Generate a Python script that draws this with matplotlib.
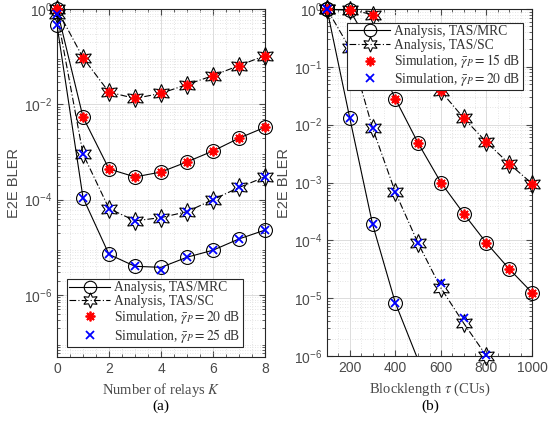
import matplotlib
matplotlib.use('Agg')
import matplotlib.pyplot as plt
import numpy as np
from matplotlib.lines import Line2D

# (a) BLER vs number of relays
K = [0, 1, 2, 3, 4, 5, 6, 7, 8]
mrc_20 = [0.98, 5.4e-3, 4.4e-4, 3.0e-4, 3.8e-4, 6.2e-4, 1.05e-3, 1.95e-3, 3.3e-3]
sc_20 = [0.99, 0.095, 0.018, 0.0133, 0.017, 0.026, 0.040, 0.065, 0.105]
mrc_25 = [0.46, 1.1e-4, 7.1e-6, 4.0e-6, 3.8e-6, 6.2e-6, 8.7e-6, 1.5e-5, 2.3e-5]
sc_25 = [0.80, 9.1e-4, 6.5e-5, 3.6e-5, 4.2e-5, 5.6e-5, 1.0e-4, 1.8e-4, 3.0e-4]
sim_mrc_25 = [0.46, 1.1e-4, 7.1e-6, 4.0e-6, 3.4e-6, 6.2e-6, 8.7e-6, 1.5e-5, 2.3e-5]

# (b) BLER vs blocklength
tau = [100, 200, 300, 400, 500, 600, 700, 800, 900, 1000]
mrc_15 = [0.99, 0.95, 0.2, 0.028, 4.8e-3, 1.0e-3, 2.9e-4, 9.0e-5, 3.2e-5, 1.25e-5]
sc_15 = [1.0, 0.98, 0.8, 0.3, 0.1, 0.038, 0.013, 5.0e-3, 2.1e-3, 9.6e-4]
tau_20 = [100, 200, 300, 400, 500]
mrc_20b = [0.99, 0.013, 1.9e-4, 8.3e-6, 8.5e-7]
tau_sc20 = [100, 200, 300, 400, 500, 600, 700, 800]
sc_20b = [1.0, 0.21, 8.7e-3, 6.8e-4, 8.9e-5, 1.5e-5, 3.7e-6, 1.0e-6]
sim_sc_20b = [1.0, 0.21, 8.7e-3, 6.8e-4, 8.9e-5, 1.8e-5, 4.6e-6, 1.05e-6]

plt.rcParams['font.family'] = 'Liberation Sans'
plt.rcParams['mathtext.fontset'] = 'stix'

GRAY = '#4a4a4a'
STAR = (8, 2, 0)
HEX = (6, 1, 0)
DASHDOT = (0, (6, 2, 1, 2))

fig = plt.figure(figsize=(5.53, 4.24), dpi=100)
ax1 = fig.add_axes([57 / 553, 67 / 424, 208 / 553, 348 / 424])
ax2 = fig.add_axes([327 / 553, 68 / 424, 205 / 553, 347 / 424])


def style(ax):
    ax.set_yscale('log')
    ax.grid(True, which='major', color='#dcdcdc', lw=0.7)
    ax.grid(True, which='minor', color='#dcdcdc', lw=0.6, ls=(0, (1, 2)))
    ax.tick_params(which='both', direction='in', top=True, right=True,
                   colors=GRAY, labelsize=10, labelcolor=GRAY)
    ax.tick_params(which='major', length=4)
    ax.tick_params(which='minor', length=2)
    for s in ax.spines.values():
        s.set_color('#262626')
        s.set_linewidth(0.8)
    ax.set_axisbelow(True)


def analysis(ax, x, y, ls, mk, ms, nmk=None):
    ax.plot(x, y, color='k', ls=ls, lw=0.8, zorder=3)
    n = len(x) if nmk is None else nmk
    ax.plot(x[:n], y[:n], ls='none', marker=mk, ms=ms, mfc='none', mec='k',
            mew=0.8, clip_on=False, zorder=3)


def sim(ax, x, y, c, mk, ms):
    ax.plot(x, y, ls='none', marker=mk, ms=ms, color=c, mew=1.3,
            clip_on=False, zorder=4)


# panel (a)
style(ax1)
analysis(ax1, K, mrc_20, '-', 'o', 10)
analysis(ax1, K, mrc_25, '-', 'o', 10)
analysis(ax1, K, sc_20, DASHDOT, HEX, 13)
analysis(ax1, K, sc_25, DASHDOT, HEX, 13)
sim(ax1, K, mrc_20, 'red', STAR, 7)
sim(ax1, K, sc_20, 'red', STAR, 7)
sim(ax1, K, sim_mrc_25, 'blue', 'x', 6)
sim(ax1, K, sc_25, 'blue', 'x', 6)
ax1.set_xlim(0, 8)
ax1.set_ylim(5e-8, 1)
ax1.set_xticks([0, 2, 4, 6, 8])
ax1.set_xticks(np.arange(0, 8.01, 0.5), minor=True)
ax1.set_yticks([1, 1e-2, 1e-4, 1e-6])
ax1.set_xlabel('Number of relays $K$', family='Liberation Serif', fontsize=10.5, color=GRAY)
ax1.set_ylabel('E2E BLER', fontsize=10.5, color=GRAY, labelpad=2)

# panel (b)
style(ax2)
analysis(ax2, tau, mrc_15, '-', 'o', 10)
analysis(ax2, tau_20, mrc_20b, '-', 'o', 10, nmk=4)
analysis(ax2, tau, sc_15, DASHDOT, HEX, 13)
analysis(ax2, tau_sc20, sc_20b, DASHDOT, HEX, 13)
sim(ax2, tau, mrc_15, 'red', STAR, 7)
sim(ax2, tau, sc_15, 'red', STAR, 7)
sim(ax2, tau_20[:4], mrc_20b[:4], 'blue', 'x', 6)
sim(ax2, tau_sc20, sim_sc_20b, 'blue', 'x', 6)
ax2.set_xlim(100, 1000)
ax2.set_ylim(1e-6, 1)
ax2.set_xticks([200, 400, 600, 800, 1000])
ax2.set_xticks(np.arange(100, 1001, 50), minor=True)
ax2.set_yticks([1, 1e-1, 1e-2, 1e-3, 1e-4, 1e-5, 1e-6])
ax2.set_xlabel(r'Blocklength $\tau$ (CUs)', family='Liberation Serif', fontsize=10.5, color=GRAY)
ax2.set_ylabel('E2E BLER', fontsize=10.5, color=GRAY, labelpad=2)


def legend(ax, labels, loc, anchor):
    h = [Line2D([], [], color='k', lw=0.8, marker='o', ms=9, mfc='none', mew=0.8),
         Line2D([], [], color='k', lw=0.8, ls=DASHDOT, marker=HEX, ms=11,
                mfc='none', mew=0.8),
         Line2D([], [], ls='none', marker=STAR, color='red', ms=7, mew=1.3),
         Line2D([], [], ls='none', marker='x', color='blue', ms=6, mew=1.3)]
    lg = ax.legend(h, labels, loc=loc, bbox_to_anchor=anchor, fancybox=False,
                   framealpha=1, edgecolor='#262626', handlelength=3.0,
                   labelspacing=0.05, borderpad=0.15, handletextpad=0.3,
                   borderaxespad=0, prop={'family': 'Liberation Serif', 'size': 9.8})
    lg.get_frame().set_linewidth(0.8)
    for t in lg.get_texts():
        t.set_color('#333333')


legend(ax1, ['Analysis, TAS/MRC', 'Analysis, TAS/SC',
             r'Simulation, $\bar{\gamma}_P = 20$ dB',
             r'Simulation, $\bar{\gamma}_P = 25$ dB'],
       'lower left', (0.05, 0.03))
legend(ax2, ['Analysis, TAS/MRC', 'Analysis, TAS/SC',
             r'Simulation, $\bar{\gamma}_P = 15$ dB',
             r'Simulation, $\bar{\gamma}_P = 20$ dB'],
       'upper right', (0.955, 0.96))

fig.text(161 / 553, 1 - 406 / 424, '(a)', family='Liberation Serif', fontsize=11,
         ha='center', va='center')
fig.text(430 / 553, 1 - 406 / 424, '(b)', family='Liberation Serif', fontsize=11,
         ha='center', va='center')

fig.savefig('out.png', dpi=100)
